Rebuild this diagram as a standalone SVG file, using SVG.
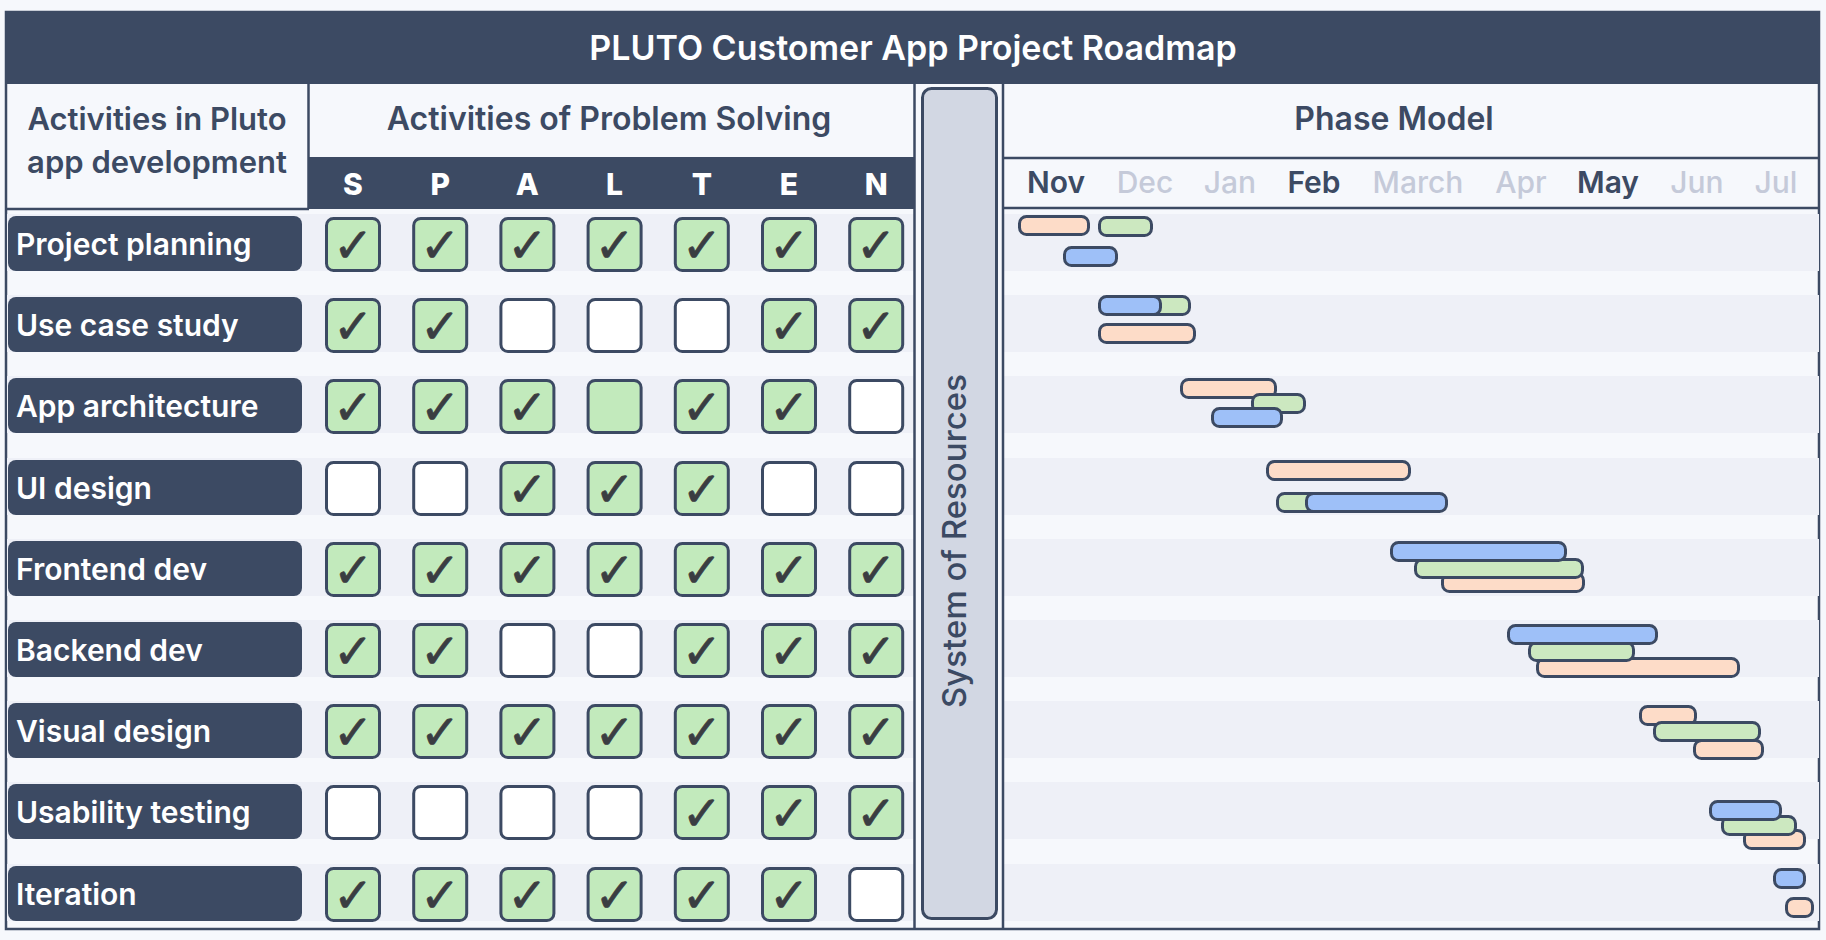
<svg xmlns="http://www.w3.org/2000/svg" width="1826" height="940" viewBox="0 0 1826 940">
<defs>
<style>
.t{font-family:Inter,"Liberation Sans",sans-serif}
.dark{fill:#3c4a63}
.band{fill:#eef0f7}
.ln{stroke:#3c4a63;stroke-width:2.5;fill:none}
.title{font-size:34px;font-weight:600;fill:#ffffff;text-anchor:middle}
.hdr{font-size:32px;font-weight:600;fill:#3c4a63;text-anchor:middle}
.hdl{font-size:31px}
.ltr{font-size:30px;font-weight:800;fill:#ffffff;text-anchor:middle}
.mon{font-size:30px;font-weight:500;fill:#c5cad9;text-anchor:middle}
.on{fill:#3c4a63;font-weight:600}
.rl{font-size:30px;font-weight:600;fill:#ffffff}
.cb{stroke:#3c4a63;stroke-width:3}
.y{fill:#c2eabc}
.n{fill:#ffffff}
.ck{font-family:"DejaVu Sans",sans-serif;font-size:48px;font-weight:700;fill:#3a3d42;stroke:#3a3d42;stroke-width:0.8;stroke-linejoin:round;text-anchor:middle}
.bar{stroke:#3c4a63;stroke-width:3}
.p{fill:#fddcc8}
.g{fill:#cce8c0}
.b{fill:#9ec0f8}
</style>
</defs>
<rect x="0" y="0" width="1826" height="940" fill="#f6f8fc"/>
<g id="frame">
<rect x="6" y="12" width="1813" height="917" fill="#f6f8fc" stroke="#3c4a63" stroke-width="2.5"/>
<g id="bands">
<rect class="band" x="7" y="214" width="907" height="57"/><rect class="band" x="1004" y="214" width="815" height="57"/>
<rect class="band" x="7" y="295" width="907" height="57"/><rect class="band" x="1004" y="295" width="815" height="57"/>
<rect class="band" x="7" y="376" width="907" height="57"/><rect class="band" x="1004" y="376" width="815" height="57"/>
<rect class="band" x="7" y="458" width="907" height="57"/><rect class="band" x="1004" y="458" width="815" height="57"/>
<rect class="band" x="7" y="539" width="907" height="57"/><rect class="band" x="1004" y="539" width="815" height="57"/>
<rect class="band" x="7" y="620" width="907" height="57"/><rect class="band" x="1004" y="620" width="815" height="57"/>
<rect class="band" x="7" y="701" width="907" height="57"/><rect class="band" x="1004" y="701" width="815" height="57"/>
<rect class="band" x="7" y="782" width="907" height="57"/><rect class="band" x="1004" y="782" width="815" height="57"/>
<rect class="band" x="7" y="864" width="907" height="57"/><rect class="band" x="1004" y="864" width="815" height="57"/>
</g>
</g>
<g id="title">
<rect class="dark" x="6" y="12" width="1813" height="72"/>
<text class="t title" x="913" y="60">PLUTO Customer App Project Roadmap</text>
</g>
<g id="header-activities">
<line class="ln" x1="308.5" y1="84" x2="308.5" y2="209" stroke-width="1.5"/>
<line class="ln" x1="6" y1="209" x2="309" y2="209"/>
<text class="t hdr hdl" x="157" y="130">Activities in Pluto</text>
<text class="t hdr hdl" x="157" y="173">app development</text>
</g>
<g id="header-problem-solving">
<text class="t hdr" x="609" y="130">Activities of Problem Solving</text>
<rect class="dark" x="309" y="157" width="605" height="52"/>
<text class="t ltr" x="353" y="195">S</text>
<text class="t ltr" x="440.2" y="195">P</text>
<text class="t ltr" x="527.4" y="195">A</text>
<text class="t ltr" x="614.6" y="195">L</text>
<text class="t ltr" x="701.8" y="195">T</text>
<text class="t ltr" x="789" y="195">E</text>
<text class="t ltr" x="876.2" y="195">N</text>
</g>
<g id="resources">
<line class="ln" x1="914.5" y1="84" x2="914.5" y2="929"/>
<line class="ln" x1="1003" y1="84" x2="1003" y2="929"/>
<rect x="922.5" y="88.5" width="74" height="830" rx="9" fill="#d2d7e3" stroke="#3c4a63" stroke-width="3"/>
<text class="t" transform="translate(966 541) rotate(-90)" text-anchor="middle" font-size="33" font-weight="500" fill="#3c4a63">System of Resources</text>
</g>
<g id="header-phase-model">
<text class="t hdr" x="1394" y="130">Phase Model</text>
<line class="ln" x1="1003" y1="158" x2="1819" y2="158"/>
<line class="ln" x1="1003" y1="208" x2="1819" y2="208"/>
<text class="t mon on" x="1056" y="193">Nov</text>
<text class="t mon" x="1145" y="193">Dec</text>
<text class="t mon" x="1230" y="193">Jan</text>
<text class="t mon on" x="1314" y="193">Feb</text>
<text class="t mon" x="1418" y="193">March</text>
<text class="t mon" x="1521" y="193">Apr</text>
<text class="t mon on" x="1608" y="193">May</text>
<text class="t mon" x="1697" y="193">Jun</text>
<text class="t mon" x="1776" y="193">Jul</text>
</g>

<g id="row-project-planning">
<rect class="dark" x="8" y="216" width="294" height="55" rx="8"/>
<text class="t rl" x="16" y="255">Project planning</text>
<rect class="cb y" x="326.5" y="218.5" width="53" height="52" rx="7"/><text class="ck" x="353" y="262">✓</text>
<rect class="cb y" x="413.7" y="218.5" width="53" height="52" rx="7"/><text class="ck" x="440.2" y="262">✓</text>
<rect class="cb y" x="500.9" y="218.5" width="53" height="52" rx="7"/><text class="ck" x="527.4" y="262">✓</text>
<rect class="cb y" x="588.1" y="218.5" width="53" height="52" rx="7"/><text class="ck" x="614.6" y="262">✓</text>
<rect class="cb y" x="675.3" y="218.5" width="53" height="52" rx="7"/><text class="ck" x="701.8" y="262">✓</text>
<rect class="cb y" x="762.5" y="218.5" width="53" height="52" rx="7"/><text class="ck" x="789" y="262">✓</text>
<rect class="cb y" x="849.7" y="218.5" width="53" height="52" rx="7"/><text class="ck" x="876.2" y="262">✓</text>
<rect class="bar p" x="1019.5" y="216.5" width="69" height="18" rx="7"/>
<rect class="bar g" x="1099.5" y="217.5" width="52" height="18" rx="7"/>
<rect class="bar b" x="1064.5" y="247.5" width="52" height="18" rx="7"/>
</g>

<g id="row-use-case-study">
<rect class="dark" x="8" y="297" width="294" height="55" rx="8"/>
<text class="t rl" x="16" y="336">Use case study</text>
<rect class="cb y" x="326.5" y="299.5" width="53" height="52" rx="7"/><text class="ck" x="353" y="343">✓</text>
<rect class="cb y" x="413.7" y="299.5" width="53" height="52" rx="7"/><text class="ck" x="440.2" y="343">✓</text>
<rect class="cb n" x="500.9" y="299.5" width="53" height="52" rx="7"/>
<rect class="cb n" x="588.1" y="299.5" width="53" height="52" rx="7"/>
<rect class="cb n" x="675.3" y="299.5" width="53" height="52" rx="7"/>
<rect class="cb y" x="762.5" y="299.5" width="53" height="52" rx="7"/><text class="ck" x="789" y="343">✓</text>
<rect class="cb y" x="849.7" y="299.5" width="53" height="52" rx="7"/><text class="ck" x="876.2" y="343">✓</text>
<rect class="bar g" x="1142.5" y="296.5" width="47" height="18" rx="7"/>
<rect class="bar b" x="1099.5" y="296.5" width="61" height="18" rx="7"/>
<rect class="bar p" x="1099.5" y="324.5" width="95" height="18" rx="7"/>
</g>

<g id="row-app-architecture">
<rect class="dark" x="8" y="378" width="294" height="55" rx="8"/>
<text class="t rl" x="16" y="417">App architecture</text>
<rect class="cb y" x="326.5" y="380.5" width="53" height="52" rx="7"/><text class="ck" x="353" y="424">✓</text>
<rect class="cb y" x="413.7" y="380.5" width="53" height="52" rx="7"/><text class="ck" x="440.2" y="424">✓</text>
<rect class="cb y" x="500.9" y="380.5" width="53" height="52" rx="7"/><text class="ck" x="527.4" y="424">✓</text>
<rect class="cb y" x="588.1" y="380.5" width="53" height="52" rx="7"/>
<rect class="cb y" x="675.3" y="380.5" width="53" height="52" rx="7"/><text class="ck" x="701.8" y="424">✓</text>
<rect class="cb y" x="762.5" y="380.5" width="53" height="52" rx="7"/><text class="ck" x="789" y="424">✓</text>
<rect class="cb n" x="849.7" y="380.5" width="53" height="52" rx="7"/>
<rect class="bar p" x="1181.5" y="379.5" width="94" height="18" rx="7"/>
<rect class="bar g" x="1252.5" y="394.5" width="52" height="18" rx="7"/>
<rect class="bar b" x="1212.5" y="408.5" width="69" height="18" rx="7"/>
</g>

<g id="row-ui-design">
<rect class="dark" x="8" y="460" width="294" height="55" rx="8"/>
<text class="t rl" x="16" y="499">UI design</text>
<rect class="cb n" x="326.5" y="462.5" width="53" height="52" rx="7"/>
<rect class="cb n" x="413.7" y="462.5" width="53" height="52" rx="7"/>
<rect class="cb y" x="500.9" y="462.5" width="53" height="52" rx="7"/><text class="ck" x="527.4" y="506">✓</text>
<rect class="cb y" x="588.1" y="462.5" width="53" height="52" rx="7"/><text class="ck" x="614.6" y="506">✓</text>
<rect class="cb y" x="675.3" y="462.5" width="53" height="52" rx="7"/><text class="ck" x="701.8" y="506">✓</text>
<rect class="cb n" x="762.5" y="462.5" width="53" height="52" rx="7"/>
<rect class="cb n" x="849.7" y="462.5" width="53" height="52" rx="7"/>
<rect class="bar p" x="1267.5" y="461.5" width="142" height="18" rx="7"/>
<rect class="bar g" x="1277.5" y="493.5" width="51" height="18" rx="7"/>
<rect class="bar b" x="1306.5" y="493.5" width="140" height="18" rx="7"/>
</g>

<g id="row-frontend-dev">
<rect class="dark" x="8" y="541" width="294" height="55" rx="8"/>
<text class="t rl" x="16" y="580">Frontend dev</text>
<rect class="cb y" x="326.5" y="543.5" width="53" height="52" rx="7"/><text class="ck" x="353" y="587">✓</text>
<rect class="cb y" x="413.7" y="543.5" width="53" height="52" rx="7"/><text class="ck" x="440.2" y="587">✓</text>
<rect class="cb y" x="500.9" y="543.5" width="53" height="52" rx="7"/><text class="ck" x="527.4" y="587">✓</text>
<rect class="cb y" x="588.1" y="543.5" width="53" height="52" rx="7"/><text class="ck" x="614.6" y="587">✓</text>
<rect class="cb y" x="675.3" y="543.5" width="53" height="52" rx="7"/><text class="ck" x="701.8" y="587">✓</text>
<rect class="cb y" x="762.5" y="543.5" width="53" height="52" rx="7"/><text class="ck" x="789" y="587">✓</text>
<rect class="cb y" x="849.7" y="543.5" width="53" height="52" rx="7"/><text class="ck" x="876.2" y="587">✓</text>
<rect class="bar p" x="1442.5" y="573.5" width="141" height="18" rx="7"/>
<rect class="bar g" x="1415.5" y="559.5" width="167" height="18" rx="7"/>
<rect class="bar b" x="1391.5" y="542.5" width="174" height="18" rx="7"/>
</g>

<g id="row-backend-dev">
<rect class="dark" x="8" y="622" width="294" height="55" rx="8"/>
<text class="t rl" x="16" y="661">Backend dev</text>
<rect class="cb y" x="326.5" y="624.5" width="53" height="52" rx="7"/><text class="ck" x="353" y="668">✓</text>
<rect class="cb y" x="413.7" y="624.5" width="53" height="52" rx="7"/><text class="ck" x="440.2" y="668">✓</text>
<rect class="cb n" x="500.9" y="624.5" width="53" height="52" rx="7"/>
<rect class="cb n" x="588.1" y="624.5" width="53" height="52" rx="7"/>
<rect class="cb y" x="675.3" y="624.5" width="53" height="52" rx="7"/><text class="ck" x="701.8" y="668">✓</text>
<rect class="cb y" x="762.5" y="624.5" width="53" height="52" rx="7"/><text class="ck" x="789" y="668">✓</text>
<rect class="cb y" x="849.7" y="624.5" width="53" height="52" rx="7"/><text class="ck" x="876.2" y="668">✓</text>
<rect class="bar p" x="1537.5" y="658.5" width="201" height="18" rx="7"/>
<rect class="bar g" x="1529.5" y="642.5" width="104" height="18" rx="7"/>
<rect class="bar b" x="1508.5" y="625.5" width="148" height="18" rx="7"/>
</g>

<g id="row-visual-design">
<rect class="dark" x="8" y="703" width="294" height="55" rx="8"/>
<text class="t rl" x="16" y="742">Visual design</text>
<rect class="cb y" x="326.5" y="705.5" width="53" height="52" rx="7"/><text class="ck" x="353" y="749">✓</text>
<rect class="cb y" x="413.7" y="705.5" width="53" height="52" rx="7"/><text class="ck" x="440.2" y="749">✓</text>
<rect class="cb y" x="500.9" y="705.5" width="53" height="52" rx="7"/><text class="ck" x="527.4" y="749">✓</text>
<rect class="cb y" x="588.1" y="705.5" width="53" height="52" rx="7"/><text class="ck" x="614.6" y="749">✓</text>
<rect class="cb y" x="675.3" y="705.5" width="53" height="52" rx="7"/><text class="ck" x="701.8" y="749">✓</text>
<rect class="cb y" x="762.5" y="705.5" width="53" height="52" rx="7"/><text class="ck" x="789" y="749">✓</text>
<rect class="cb y" x="849.7" y="705.5" width="53" height="52" rx="7"/><text class="ck" x="876.2" y="749">✓</text>
<rect class="bar p" x="1640.5" y="706.5" width="55" height="18" rx="7"/>
<rect class="bar p" x="1694.5" y="740.5" width="68" height="18" rx="7"/>
<rect class="bar g" x="1654.5" y="722.5" width="105" height="18" rx="7"/>
</g>

<g id="row-usability-testing">
<rect class="dark" x="8" y="784" width="294" height="55" rx="8"/>
<text class="t rl" x="16" y="823">Usability testing</text>
<rect class="cb n" x="326.5" y="786.5" width="53" height="52" rx="7"/>
<rect class="cb n" x="413.7" y="786.5" width="53" height="52" rx="7"/>
<rect class="cb n" x="500.9" y="786.5" width="53" height="52" rx="7"/>
<rect class="cb n" x="588.1" y="786.5" width="53" height="52" rx="7"/>
<rect class="cb y" x="675.3" y="786.5" width="53" height="52" rx="7"/><text class="ck" x="701.8" y="830">✓</text>
<rect class="cb y" x="762.5" y="786.5" width="53" height="52" rx="7"/><text class="ck" x="789" y="830">✓</text>
<rect class="cb y" x="849.7" y="786.5" width="53" height="52" rx="7"/><text class="ck" x="876.2" y="830">✓</text>
<rect class="bar p" x="1744.5" y="830.5" width="60" height="18" rx="7"/>
<rect class="bar g" x="1722.5" y="816.5" width="73" height="18" rx="7"/>
<rect class="bar b" x="1710.5" y="801.5" width="70" height="18" rx="7"/>
</g>

<g id="row-iteration">
<rect class="dark" x="8" y="866" width="294" height="55" rx="8"/>
<text class="t rl" x="16" y="905">Iteration</text>
<rect class="cb y" x="326.5" y="868.5" width="53" height="52" rx="7"/><text class="ck" x="353" y="912">✓</text>
<rect class="cb y" x="413.7" y="868.5" width="53" height="52" rx="7"/><text class="ck" x="440.2" y="912">✓</text>
<rect class="cb y" x="500.9" y="868.5" width="53" height="52" rx="7"/><text class="ck" x="527.4" y="912">✓</text>
<rect class="cb y" x="588.1" y="868.5" width="53" height="52" rx="7"/><text class="ck" x="614.6" y="912">✓</text>
<rect class="cb y" x="675.3" y="868.5" width="53" height="52" rx="7"/><text class="ck" x="701.8" y="912">✓</text>
<rect class="cb y" x="762.5" y="868.5" width="53" height="52" rx="7"/><text class="ck" x="789" y="912">✓</text>
<rect class="cb n" x="849.7" y="868.5" width="53" height="52" rx="7"/>
<rect class="bar b" x="1774.5" y="869.5" width="30" height="18" rx="7"/>
<rect class="bar p" x="1786.5" y="898.5" width="26" height="18" rx="7"/>
</g>
</svg>
